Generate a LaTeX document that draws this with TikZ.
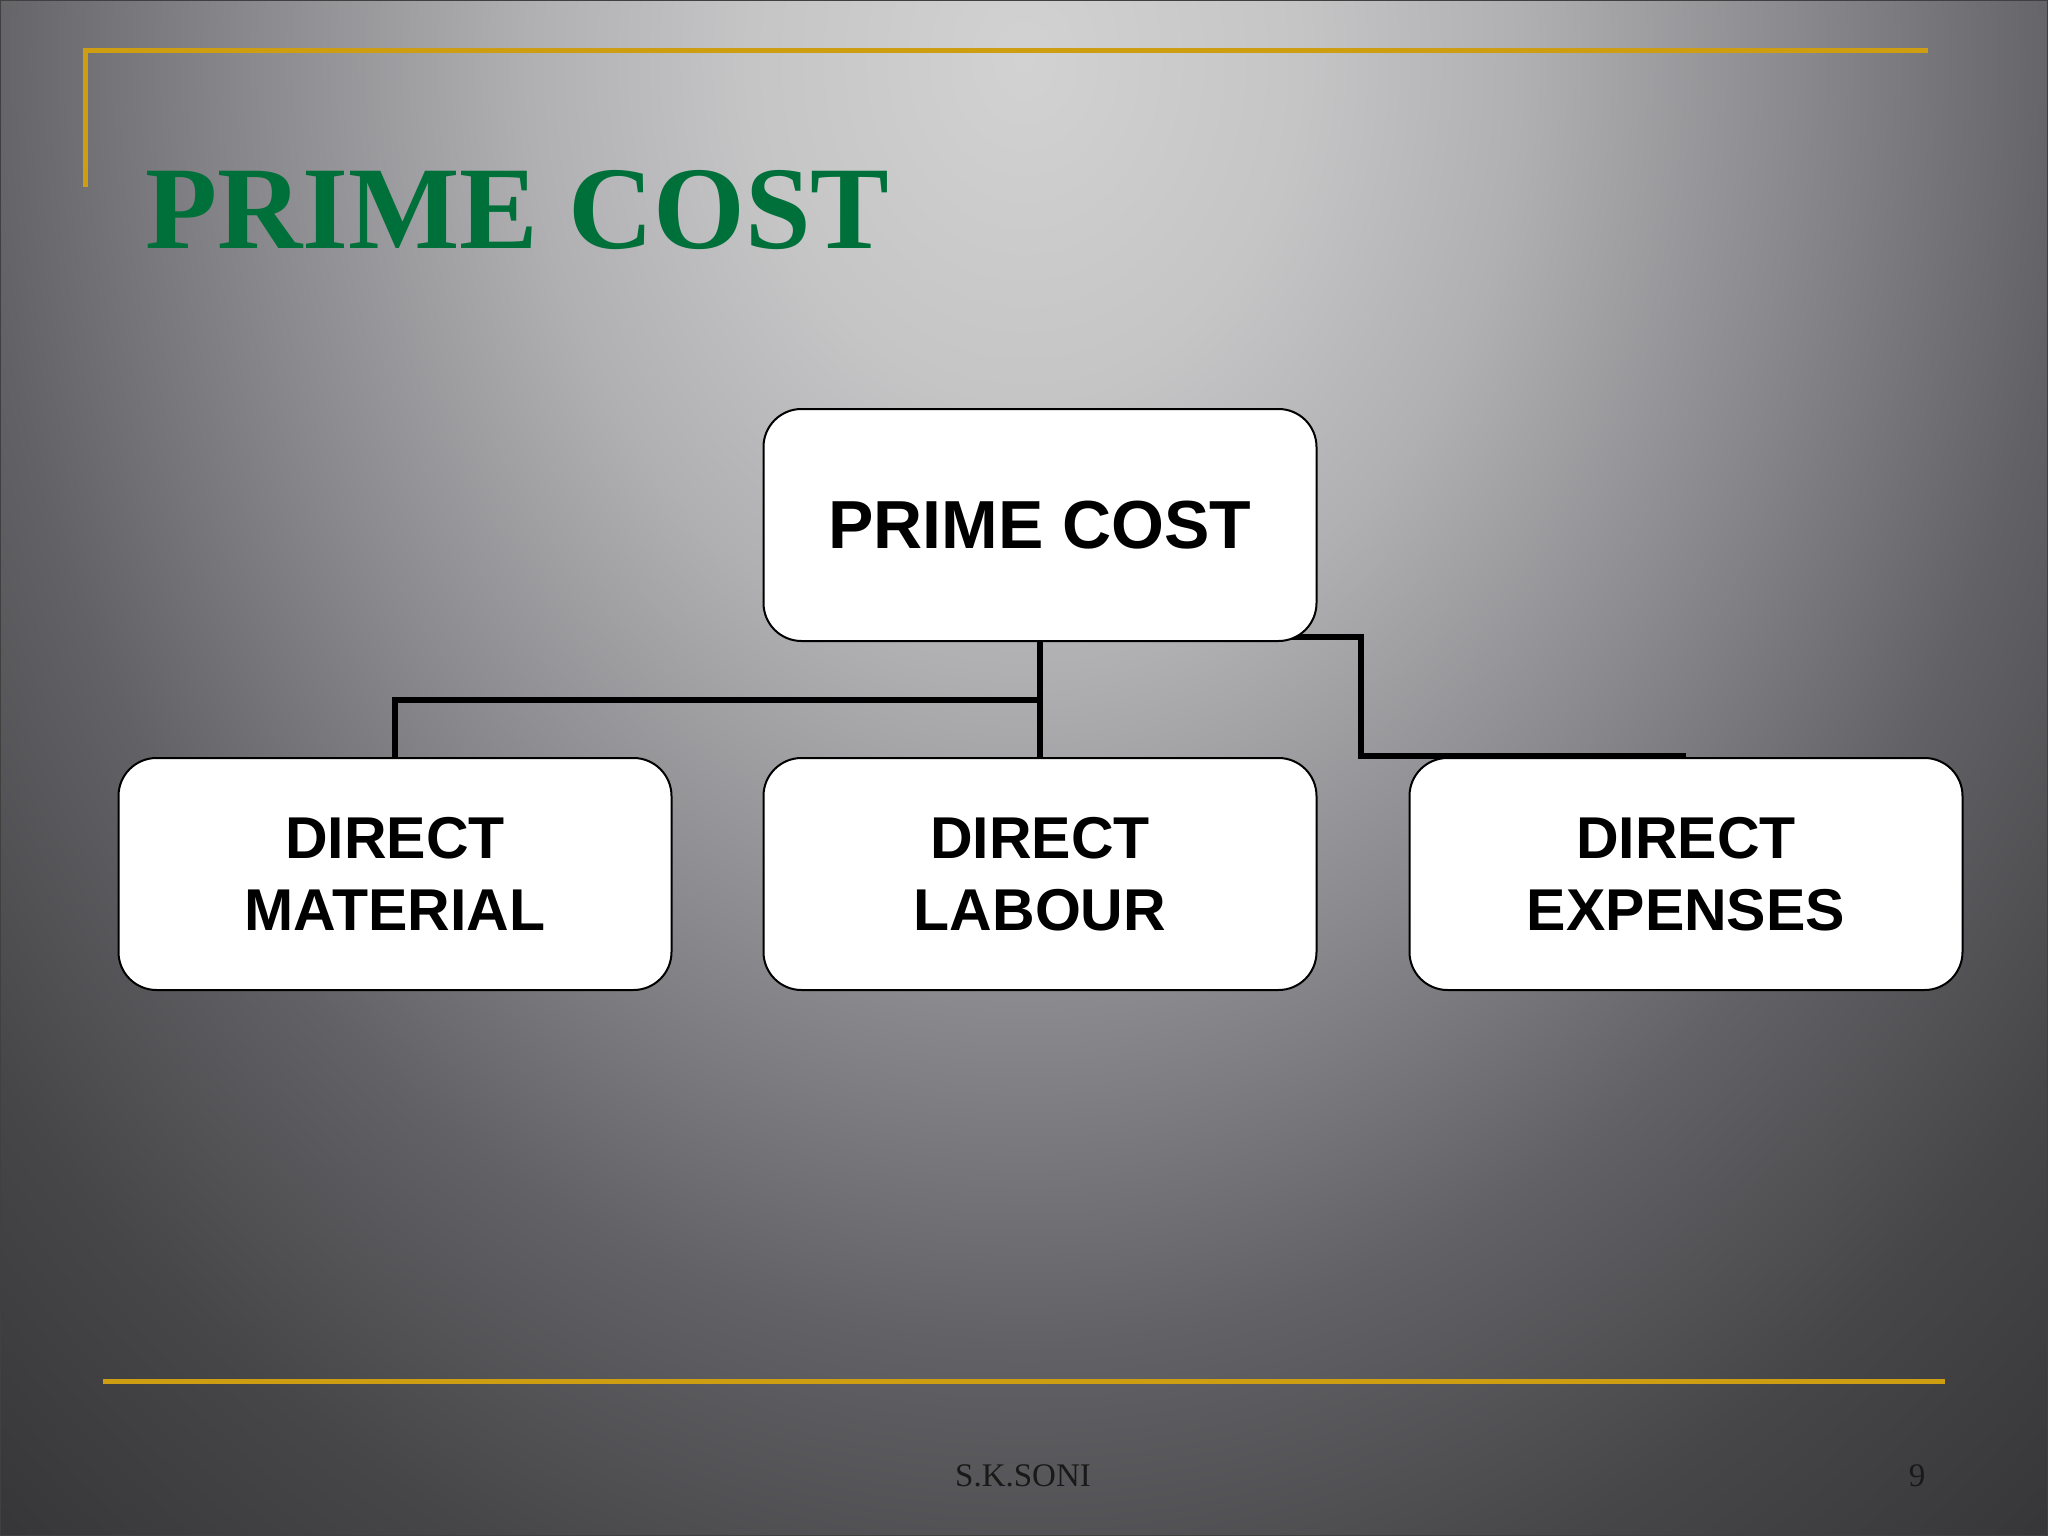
\documentclass[tikz,border=0pt]{standalone}
\usepackage{fontspec}
\setmainfont{Liberation Serif}
\newfontfamily\boxfont{Liberation Sans}
\usetikzlibrary{positioning}
\definecolor{titlegreen}{RGB}{0,112,58}
\definecolor{rulegold}{RGB}{205,158,18}
\definecolor{glow0}{RGB}{210,210,210}
\definecolor{glow1}{RGB}{197,197,198}
\definecolor{glow2}{RGB}{176,175,178}
\definecolor{glow3}{RGB}{138,137,141}
\definecolor{glow4}{RGB}{98,97,101}
\definecolor{glow5}{RGB}{70,69,72}
\definecolor{glow6}{RGB}{54,54,56}
\pgfdeclarelayer{back}
\pgfdeclarelayer{wires}
\pgfsetlayers{back,wires,main}
\pgfdeclareradialshading{slideglow}{\pgfpoint{0bp}{0bp}}{%
	color(0bp)=(glow0); color(5.2bp)=(glow1); color(9.4bp)=(glow2);
	color(14.6bp)=(glow3); color(19.8bp)=(glow4); color(25bp)=(glow5);
	color(30bp)=(glow6); color(72bp)=(glow6)}

\begin{document}
\begin{tikzpicture}[
	x=1pt, y=-1pt,
	costbox/.style={draw=black, line width=2pt, fill=white, rounded corners=38pt,
		minimum width=553pt, minimum height=232pt, align=center, inner sep=0pt},
	wire/.style={draw=black, line width=6pt},
	goldrule/.style={draw=rulegold, line width=5pt},
	node distance=349pt and 645pt,
	every node/.style={outer sep=0pt},
]
\useasboundingbox (0,0) rectangle (2048,1536);
% Input 1: position, input 2: name, input 3: text.
\def\costnode[#1](#2)#3{
	\node[costbox, #1] (#2) {#3};
}
\begin{pgfonlayer}{back}
	\begin{scope}
	\clip (0,0) rectangle (2048,1536);
	\shade[shading=slideglow] (-296,-1560) rectangle (2344,1680);
	\end{scope}
	\draw[black!75, line width=2pt] (0,0) rectangle (2048,1536);
\end{pgfonlayer}

	\draw[goldrule] (1928,51) -- (85,51) -- (85,187);
	\draw[goldrule] (103,1381) -- (1945,1381);

	\node[anchor=base west, text=titlegreen,
		font=\bfseries\fontsize{118}{130}\selectfont] (title) at (142,248) {PRIME COST};

	\costnode[at={(1040,525)}, font=\boxfont\bfseries\fontsize{68}{80}\selectfont](prime){PRIME COST}
	\begin{scope}[on grid, every node/.append style={font=\boxfont\bfseries\fontsize{59}{72}\selectfont}]
	\costnode[below=of prime](labour){DIRECT\\LABOUR}
	\costnode[left=of labour](material){DIRECT\\MATERIAL}
	\costnode[right=646pt of labour](expenses){DIRECT\\EXPENSES}
	\end{scope}

	\path (prime.south) ++(0,59) coordinate (split);
	\path (prime.south) ++(321,-4) coordinate (jog);
\begin{pgfonlayer}{wires}
	\draw[wire] (prime.south) -- (labour.north);
	\draw[wire] (material.north) |- (split);
	\draw[wire] (prime.south |- jog) -- (jog) |- ([yshift=2pt]expenses.north);
\end{pgfonlayer}

	\node[anchor=base, text=black!90, font=\fontsize{33}{40}\selectfont] (author) at (1023,1486) {S.K.SONI};
	\node[anchor=base, text=black!90, font=\fontsize{33}{40}\selectfont] (pageno) at (1917,1486) {9};
\end{tikzpicture}
\end{document}
